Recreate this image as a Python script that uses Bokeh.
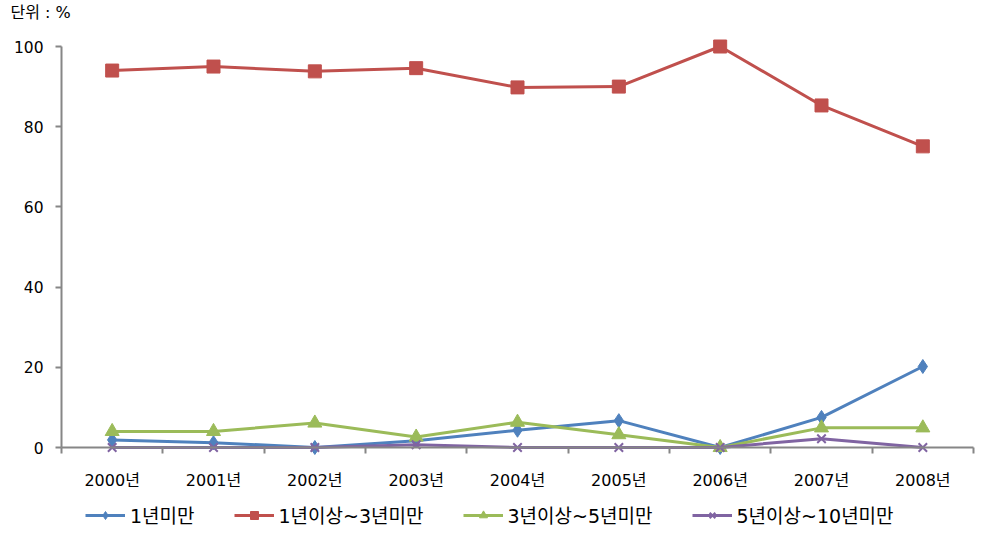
from bokeh.plotting import figure
from bokeh.models import FixedTicker, Label, Legend, LegendItem, Range1d, LinearAxis
from bokeh.embed import file_html
from bokeh.resources import INLINE

years = ["2000년", "2001년", "2002년", "2003년", "2004년", "2005년", "2006년", "2007년", "2008년"]
s_under1 = [1.9, 1.2, 0.0, 1.7, 4.3, 6.7, 0.0, 7.5, 20.2]
s_1to3 = [94.0, 95.0, 93.8, 94.6, 89.8, 90.0, 100.0, 85.3, 75.1]
s_3to5 = [4.0, 4.0, 6.1, 2.6, 6.3, 3.2, 0.0, 4.9, 4.9]
s_5to10 = [0.0, 0.0, 0.0, 0.7, 0.0, 0.0, 0.0, 2.2, 0.0]
names = ["1년미만", "1년이상~3년미만", "3년이상~5년미만", "5년이상~10년미만"]
y_ticks = [0, 20, 40, 60, 80, 100]

FONT = "DejaVu Sans, Noto Sans CJK KR"
AXIS_C = "#868686"

W, H = 975, 545
PX_X = 912 / 9.0      # pixels per category
PX_Y = 401 / 100.0    # pixels per percent
x0 = -0.5 - 61 / PX_X
y1 = 100 + 46 / PX_Y

p = figure(width=W, height=H,
           x_range=Range1d(x0, x0 + W / PX_X), y_range=Range1d(y1 - H / PX_Y, y1),
           output_backend="svg", toolbar_location=None,
           min_border_left=0, min_border_right=0, min_border_top=0, min_border_bottom=0,
           x_axis_location=None, y_axis_location=None)
p.outline_line_color = None
p.xgrid.visible = False
p.ygrid.visible = False

yaxis = LinearAxis(ticker=FixedTicker(ticks=y_ticks, minor_ticks=[]), bounds=(0, 100), fixed_location=-0.5)
yaxis.axis_line_color = AXIS_C
yaxis.axis_line_width = 2
yaxis.major_tick_line_color = AXIS_C
yaxis.major_tick_line_width = 2
yaxis.major_tick_out = 6
yaxis.major_tick_in = 0
yaxis.major_label_standoff = 12
yaxis.major_label_text_font = FONT
yaxis.major_label_text_font_size = "15.5px"
yaxis.major_label_text_color = "black"
p.add_layout(yaxis, "left")

xs = list(range(len(years)))
xaxis = LinearAxis(ticker=FixedTicker(ticks=xs, minor_ticks=[i - 0.5 for i in range(len(years) + 1)]),
                   fixed_location=0, bounds=(-0.5, 8.5),
                   major_label_overrides={i: y for i, y in enumerate(years)})
xaxis.axis_line_color = AXIS_C
xaxis.axis_line_width = 2
xaxis.major_tick_line_color = None
xaxis.major_tick_out = 0
xaxis.major_tick_in = 0
xaxis.minor_tick_line_color = AXIS_C
xaxis.minor_tick_line_width = 2
xaxis.minor_tick_out = 6
xaxis.minor_tick_in = 0
xaxis.major_label_standoff = 17
xaxis.major_label_text_font = FONT
xaxis.major_label_text_font_size = "16px"
xaxis.major_label_text_color = "black"
p.add_layout(xaxis, "below")

items = []
specs = [
    (s_under1, "#4F81BD", "diamond", 14),
    (s_1to3, "#C0504D", "square", 13),
    (s_3to5, "#9BBB59", "triangle", 14),
    (s_5to10, "#8064A2", "x", 12),
]
for (vals, col, mk, sz), nm in zip(specs, names):
    ln = p.line(xs, vals, line_color=col, line_width=3)
    if mk == "x":
        sc = p.scatter(xs, vals, marker=mk, size=sz, line_color=col, line_width=2)
    else:
        sc = p.scatter(xs, vals, marker=mk, size=sz, fill_color=col, line_color=col)
    items.append(LegendItem(label=nm, renderers=[ln, sc]))

legend = Legend(items=items, orientation="horizontal", location=(85, 17),
                glyph_width=40, glyph_height=20, label_standoff=5, spacing=39,
                padding=0, margin=0, border_line_color=None, background_fill_alpha=0,
                label_text_font=FONT, label_text_font_size="19px", label_text_color="black")
p.add_layout(legend, "center")

p.add_layout(Label(x=10, y=H - 12, x_units="screen", y_units="screen", text="단위 : %",
                   text_baseline="middle", text_font=FONT, text_font_size="16px", text_color="black"))

open("out.html", "w").write(file_html(p, INLINE))
